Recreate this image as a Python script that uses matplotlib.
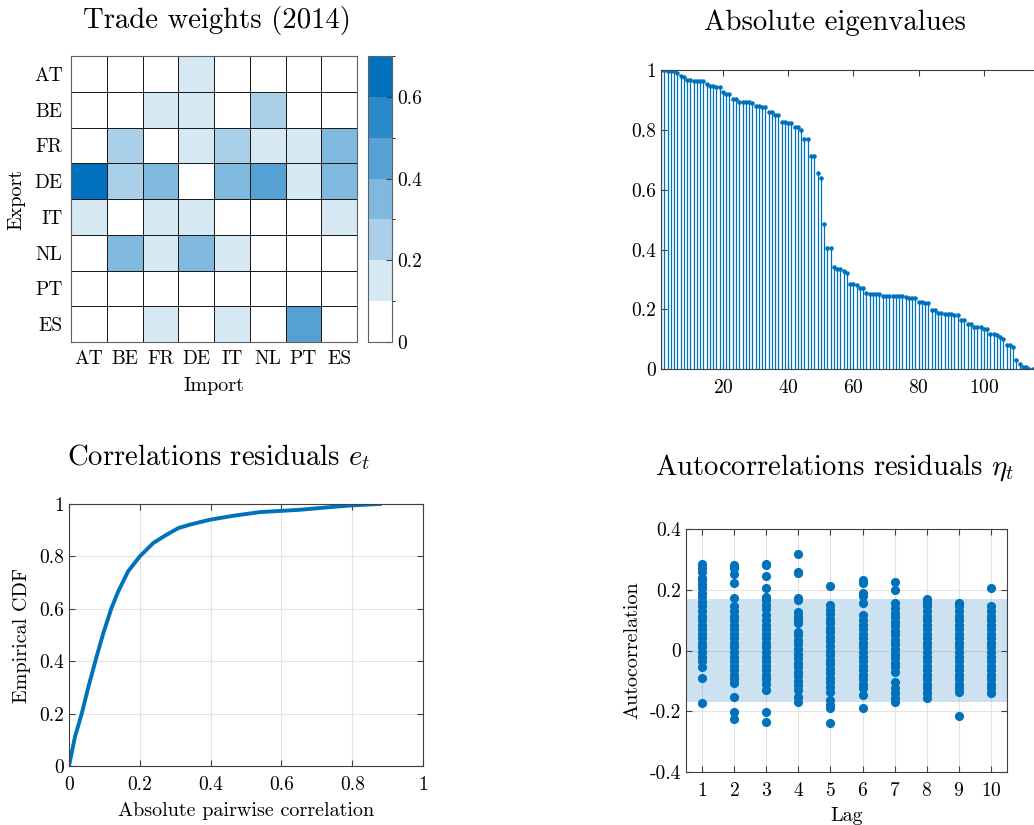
import numpy as np
import matplotlib
matplotlib.use('Agg')
import matplotlib.pyplot as plt
from matplotlib.colors import ListedColormap, BoundaryNorm

plt.rcParams['font.family'] = 'cmr10'
plt.rcParams['mathtext.fontset'] = 'cm'
plt.rcParams['axes.unicode_minus'] = False
plt.rcParams['axes.formatter.use_mathtext'] = True

blue = '#0072BD'
axcol = '#404040'

# --- data ---------------------------------------------------------------
countries = ['AT', 'BE', 'FR', 'DE', 'IT', 'NL', 'PT', 'ES']
# rows = export, columns = import
trade_w = [
    [0.00, 0.00, 0.00, 0.15, 0.00, 0.00, 0.00, 0.00],  # AT
    [0.00, 0.00, 0.14, 0.15, 0.00, 0.24, 0.00, 0.00],  # BE
    [0.00, 0.24, 0.00, 0.15, 0.25, 0.16, 0.13, 0.33],  # FR
    [0.64, 0.25, 0.34, 0.00, 0.33, 0.42, 0.14, 0.34],  # DE
    [0.15, 0.00, 0.14, 0.16, 0.00, 0.00, 0.00, 0.13],  # IT
    [0.00, 0.33, 0.14, 0.34, 0.12, 0.00, 0.00, 0.00],  # NL
    [0.00, 0.00, 0.00, 0.00, 0.00, 0.00, 0.00, 0.00],  # PT
    [0.00, 0.00, 0.13, 0.00, 0.14, 0.00, 0.44, 0.00],  # ES
]

eig_abs = [
    1.000, 1.000, 0.998, 0.995, 0.995, 0.990, 0.981, 0.975, 0.967, 0.967,
    0.962, 0.962, 0.962, 0.962, 0.952, 0.948, 0.948, 0.944, 0.944, 0.926,
    0.920, 0.920, 0.904, 0.904, 0.894, 0.894, 0.892, 0.892, 0.891, 0.881,
    0.881, 0.875, 0.875, 0.859, 0.859, 0.848, 0.848, 0.826, 0.826, 0.822,
    0.822, 0.809, 0.809, 0.800, 0.769, 0.769, 0.714, 0.714, 0.657, 0.638,
    0.484, 0.406, 0.406, 0.342, 0.335, 0.334, 0.330, 0.323, 0.285, 0.285,
    0.281, 0.273, 0.273, 0.256, 0.253, 0.253, 0.253, 0.253, 0.245, 0.245,
    0.245, 0.245, 0.245, 0.245, 0.245, 0.242, 0.238, 0.238, 0.238, 0.225,
    0.225, 0.220, 0.220, 0.197, 0.197, 0.189, 0.189, 0.184, 0.184, 0.184,
    0.180, 0.180, 0.165, 0.165, 0.152, 0.152, 0.140, 0.140, 0.140, 0.135,
    0.135, 0.117, 0.117, 0.113, 0.108, 0.100, 0.082, 0.082, 0.073, 0.031,
    0.019, 0.009, 0.009, 0.000, 0.000,
]

corr_x = [0.0, 0.017, 0.036, 0.055, 0.078, 0.097, 0.120, 0.139, 0.167, 0.200,
          0.238, 0.276, 0.309, 0.341, 0.398, 0.464, 0.539, 0.652, 0.746, 0.802, 0.878]
corr_cdf = [0.0, 0.112, 0.200, 0.303, 0.418, 0.507, 0.603, 0.666, 0.743, 0.800,
            0.851, 0.883, 0.908, 0.921, 0.940, 0.955, 0.969, 0.978, 0.989, 0.995, 1.0]

acf_lag1 = [0.286, 0.27, 0.257, 0.24, 0.233, 0.22, 0.205, 0.19, 0.175, 0.16, 0.145, 0.13, 0.115,
            0.1, 0.085, 0.07, 0.055, 0.04, 0.025, 0.01, -0.005, -0.02, -0.035, -0.053, -0.092, -0.172]
acf_lag2 = [0.282, 0.271, 0.253, 0.222, 0.172, 0.145, 0.13, 0.115, 0.1, 0.085, 0.07, 0.055, 0.04,
            0.025, 0.01, -0.005, -0.02, -0.035, -0.05, -0.065, -0.08, -0.095, -0.108, -0.152, -0.204, -0.224]
acf_lag3 = [0.286, 0.28, 0.246, 0.207, 0.176, 0.167, 0.15, 0.135, 0.117, 0.1, 0.085, 0.07, 0.055, 0.04,
            0.025, 0.01, -0.005, -0.02, -0.035, -0.05, -0.065, -0.08, -0.095, -0.11, -0.13, -0.204, -0.235]
acf_lag4 = [0.319, 0.26, 0.255, 0.172, 0.165, 0.128, 0.115, 0.1, 0.09, 0.062, 0.05, 0.035, 0.02, 0.005,
            -0.01, -0.025, -0.04, -0.055, -0.07, -0.085, -0.1, -0.114, -0.13, -0.152, -0.169]
acf_lag5 = [0.211, 0.15, 0.134, 0.12, 0.105, 0.09, 0.075, 0.06, 0.045, 0.03, 0.015, 0.0, -0.015, -0.03,
            -0.045, -0.06, -0.075, -0.09, -0.105, -0.119, -0.136, -0.163, -0.178, -0.19, -0.238]
acf_lag6 = [0.233, 0.222, 0.189, 0.178, 0.158, 0.117, 0.1, 0.085, 0.07, 0.055, 0.04, 0.025, 0.01, -0.005,
            -0.02, -0.035, -0.05, -0.065, -0.08, -0.095, -0.11, -0.125, -0.147, -0.188]
acf_lag7 = [0.227, 0.2, 0.156, 0.14, 0.125, 0.11, 0.095, 0.08, 0.065, 0.05, 0.035, 0.02, 0.005, -0.01,
            -0.025, -0.04, -0.055, -0.07, -0.103, -0.125, -0.141, -0.155, -0.169]
acf_lag8 = [0.169, 0.161, 0.145, 0.13, 0.115, 0.1, 0.085, 0.07, 0.055, 0.04, 0.025, 0.01, -0.005, -0.02,
            -0.035, -0.05, -0.065, -0.08, -0.095, -0.11, -0.125, -0.14, -0.158]
acf_lag9 = [0.158, 0.145, 0.13, 0.115, 0.1, 0.085, 0.07, 0.055, 0.04, 0.025, 0.01, -0.005, -0.02, -0.035,
            -0.05, -0.065, -0.08, -0.095, -0.11, -0.125, -0.136, -0.216]
acf_lag10 = [0.205, 0.145, 0.13, 0.115, 0.1, 0.085, 0.07, 0.055, 0.04, 0.025, 0.01, -0.005, -0.02, -0.035,
             -0.05, -0.065, -0.08, -0.095, -0.11, -0.125, -0.141]
acf_all = [acf_lag1, acf_lag2, acf_lag3, acf_lag4, acf_lag5,
           acf_lag6, acf_lag7, acf_lag8, acf_lag9, acf_lag10]
conf_band = 0.17

# --- figure -------------------------------------------------------------
W, H = 1034, 825
fig = plt.figure(figsize=(W / 100, H / 100), dpi=100)

tick_fs = 14
lab_fs = 14.5
title_fs = 20.7


def px_axes(x0, y0, x1, y1):
    return fig.add_axes([x0 / W, 1 - y1 / H, (x1 - x0) / W, (y1 - y0) / H])


def style(ax, right=True):
    for s in ax.spines.values():
        s.set_color(axcol)
        s.set_linewidth(0.8)
    ax.tick_params(direction='in', length=4, width=0.8, color=axcol,
                   labelsize=tick_fs, top=True, right=right)
    ax.tick_params(axis='x', pad=7)


# heatmap
ax1 = px_axes(71, 56, 357, 342)
levels = np.linspace(0, 0.7, 8)
base = np.array([0, 114, 189]) / 255
cols = [tuple(1 - (1 - base) * k / 6) for k in range(7)]
cmap = ListedColormap(cols)
norm = BoundaryNorm(levels, cmap.N)
mesh = ax1.pcolormesh(np.array(trade_w), cmap=cmap, norm=norm,
                      edgecolors='#1a1a1a', linewidth=0.6)
ax1.set_xlim(0, 8)
ax1.set_ylim(8, 0)
ax1.set_xticks(np.arange(8) + 0.5)
ax1.set_yticks(np.arange(8) + 0.5)
ax1.set_xticklabels(countries)
ax1.set_yticklabels(countries)
ax1.tick_params(length=0, labelsize=tick_fs, pad=6)
for s in ax1.spines.values():
    s.set_color('#606060')
ax1.set_xlabel('Import', fontsize=lab_fs, labelpad=6)
ax1.set_ylabel('Export', fontsize=lab_fs, labelpad=6)

cax = px_axes(368, 56, 392, 342)
cb = fig.colorbar(mesh, cax=cax, ticks=[0, 0.2, 0.4, 0.6])
cb.ax.set_yticklabels(['0', '0.2', '0.4', '0.6'])
cb.outline.set_edgecolor('#606060')
cb.ax.tick_params(direction='in', length=4, labelsize=tick_fs, color=axcol)

# eigenvalues
ax2 = px_axes(661, 70, 1036, 369.3)
style(ax2, right=False)
idx = np.arange(1, len(eig_abs) + 1)
ax2.vlines(idx, 0, eig_abs, color=blue, lw=0.9)
ax2.plot(idx, eig_abs, '.', color=blue, ms=4.5)
ax2.set_xlim(1, 116)
ax2.set_ylim(0, 1)
ax2.set_xticks([20, 40, 60, 80, 100])
ax2.set_yticks([0, 0.2, 0.4, 0.6, 0.8, 1])
ax2.set_yticklabels(['0', '0.2', '0.4', '0.6', '0.8', '1'])

# correlations ECDF
ax3 = px_axes(69, 504, 423, 766)
style(ax3)
ax3.grid(True, color='#e3e3e3', lw=0.8)
ax3.set_axisbelow(True)
ax3.plot(corr_x, corr_cdf, color=blue, lw=2.8)
ax3.set_xlim(0, 1)
ax3.set_ylim(0, 1)
ticks = [0, 0.2, 0.4, 0.6, 0.8, 1]
tl = ['0', '0.2', '0.4', '0.6', '0.8', '1']
ax3.set_xticks(ticks)
ax3.set_xticklabels(tl)
ax3.set_yticks(ticks)
ax3.set_yticklabels(tl)
ax3.set_xlabel('Absolute pairwise correlation', fontsize=lab_fs, labelpad=6)
ax3.set_ylabel('Empirical CDF', fontsize=lab_fs, labelpad=6)

# autocorrelations
ax4 = px_axes(686, 529, 1007, 772)
style(ax4)
ax4.grid(True, color='#e3e3e3', lw=0.8)
ax4.set_axisbelow(True)
ax4.axhspan(-conf_band, conf_band, color=blue, alpha=0.2, lw=0, zorder=1)
for lag, vals in enumerate(acf_all, start=1):
    ax4.plot([lag] * len(vals), vals, 'o', color=blue, ms=6.6, mew=0, zorder=3)
ax4.set_xlim(0.5, 10.5)
ax4.set_ylim(-0.4, 0.4)
ax4.set_xticks(range(1, 11))
ax4.set_yticks([-0.4, -0.2, 0, 0.2, 0.4])
ax4.set_yticklabels(['-0.4', '-0.2', '0', '0.2', '0.4'])
ax4.set_xlabel('Lag', fontsize=lab_fs, labelpad=5)
ax4.set_ylabel('Autocorrelation', fontsize=lab_fs, labelpad=6)

# titles
fig.text(217 / W, 1 - 28 / H, 'Trade weights (2014)', fontsize=title_fs, ha='center', va='baseline')
fig.text(835 / W, 1 - 30 / H, 'Absolute eigenvalues', fontsize=title_fs, ha='center', va='baseline')
fig.text(219 / W, 1 - 465 / H, r'Correlations residuals $e_t$', fontsize=title_fs, ha='center', va='baseline')
fig.text(835 / W, 1 - 475 / H, r'Autocorrelations residuals $\eta_t$', fontsize=title_fs, ha='center', va='baseline')

fig.savefig('out.png', dpi=100)
